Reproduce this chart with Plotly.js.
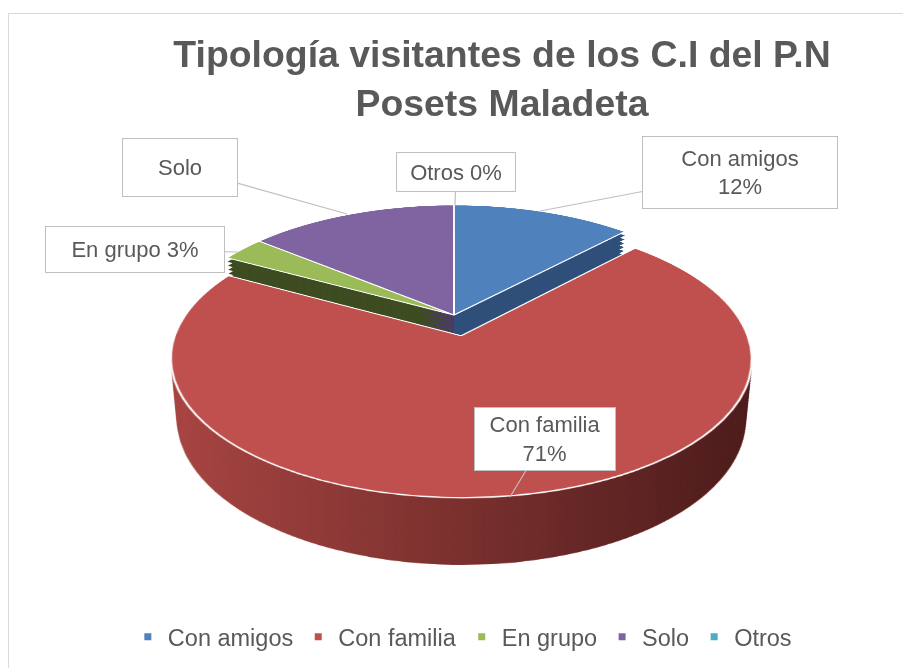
<!DOCTYPE html>
<html>
<head>
<meta charset="utf-8">
<script src="https://cdn.plot.ly/plotly-3.0.1.min.js"></script>
<style>
body { margin: 0; background: #fff; }
#wrap { position: relative; width: 903px; height: 668px; overflow: hidden; }
#frame { position: absolute; left: 8px; top: 13px; width: 1000px; height: 1000px; border: 1px solid #d9d9d9; }
.stack { position: absolute; left: 0; top: 0; width: 903px; height: 668px; }
#sideDark {
  -webkit-mask-image: linear-gradient(to right, rgba(0,0,0,0) 170px, #000 760px);
  mask-image: linear-gradient(to right, rgba(0,0,0,0) 170px, #000 760px);
}
.layer { position: absolute; left: 0; width: 903px; height: 720px; }
#chart { position: absolute; left: 0; top: 0; width: 903px; height: 668px; }
</style>
</head>
<body>
<div id="wrap">
  <div id="frame"></div>
  <div id="sideLight" class="stack"></div>
  <div id="sideDark" class="stack"></div>
  <div id="topFace" class="stack"></div>
  <div id="chart"></div>
</div>
<script>
// data
var categories = ["Con amigos", "Con familia", "En grupo", "Solo", "Otros"];
var percentValues = [12, 71, 3, 14, 0];
var labelStyle = ["br", "br", "inline", "name", "inline"];
var topColors = ["#4f81bd", "#c0504d", "#9bbb59", "#8064a2", "#4bacc6"];
var sideLightColors = ["#2f4f7a", "#a84542", "#3e4c21", "#4c3b66", "#2a7b8e"];
var sideDarkColors = ["#2f4f7a", "#4a1b1a", "#3e4c21", "#4c3b66", "#2a7b8e"];

var W = 903, H = 668;
var font = "Liberation Sans, Arial, sans-serif";

// 3d look: flat plotly pie tilted with css perspective, rim made of stacked copies
var r = 279, pullFam = 0.16, R = r * (1 + pullFam);
var LW = 903, LH = 720, ocx = 454, ocy = 360;   // pie centre inside a layer
var tipX = 454, tipY = 315;                      // where that centre lands on the page
var persp = 1520, tilt = 62.7, depth = 67, nSide = 14;

function pieLayer(parentId, colors, line, z) {
  var d = document.createElement("div");
  d.className = "layer";
  d.style.left = (tipX - ocx) + "px";
  d.style.top = (tipY - ocy) + "px";
  d.style.transformOrigin = ocx + "px " + ocy + "px";
  d.style.transform = "perspective(" + persp + "px) rotateX(" + tilt + "deg) translateZ(" + z + "px)";
  document.getElementById(parentId).appendChild(d);
  Plotly.newPlot(d, [{
    type: "pie",
    labels: categories,
    values: percentValues,
    sort: false,
    direction: "clockwise",
    rotation: 0,
    pull: [0, pullFam, 0, 0, 0],
    textinfo: "none",
    hoverinfo: "skip",
    showlegend: false,
    marker: {colors: colors, line: line},
    domain: {x: [(ocx - R) / LW, (ocx + R) / LW], y: [(LH - ocy - R) / LH, (LH - ocy + R) / LH]}
  }], {
    width: LW, height: LH,
    margin: {l: 0, r: 0, t: 0, b: 0},
    paper_bgcolor: "rgba(0,0,0,0)",
    showlegend: false
  }, {staticPlot: true});
}

for (var k = nSide; k >= 1; k--) {
  var z = -depth * k / nSide;
  pieLayer("sideLight", sideLightColors, {width: 0}, z);
  pieLayer("sideDark", sideDarkColors, {width: 0}, z);
}
pieLayer("topFace", topColors, {color: "#ffffff", width: 2}, 0);

// legend entries
var legendTraces = categories.map(function (name, i) {
  return {
    type: "scatter", mode: "markers", x: [null], y: [null], name: name,
    marker: {symbol: "square", size: 7, color: topColors[i]},
    hoverinfo: "skip"
  };
});

// callout boxes
var callouts = [
  {tip: [540, 211], box: [740, 173], w: 196, h: 73},
  {tip: [510, 497], box: [545, 439], w: 142, h: 64},
  {tip: [238, 252], box: [135, 250], w: 180, h: 47},
  {tip: [347, 214], box: [180, 167], w: 116, h: 59},
  {tip: [455, 205], box: [456, 172], w: 120, h: 40}
];

var annotations = categories.map(function (name, i) {
  var t = name;
  if (labelStyle[i] === "br") t = name + "<br>" + percentValues[i] + "%";
  if (labelStyle[i] === "inline") t = name + " " + percentValues[i] + "%";
  var co = callouts[i];
  return {
    text: t,
    xref: "paper", yref: "paper",
    x: co.tip[0] / W, y: 1 - co.tip[1] / H,
    ax: co.box[0] - co.tip[0], ay: co.box[1] - co.tip[1],
    showarrow: true, arrowhead: 0, arrowwidth: 1.2, arrowcolor: "#bfbfbf", standoff: 0,
    bgcolor: "#ffffff", bordercolor: "#bfbfbf", borderwidth: 1, borderpad: 0,
    width: co.w - 2, height: co.h - 2, align: "center", valign: "middle",
    font: {family: font, size: 22, color: "#595959"}
  };
});

Plotly.newPlot("chart", legendTraces, {
  width: W, height: H,
  margin: {l: 0, r: 0, t: 0, b: 0},
  paper_bgcolor: "rgba(0,0,0,0)",
  plot_bgcolor: "rgba(0,0,0,0)",
  xaxis: {visible: false},
  yaxis: {visible: false},
  title: {
    text: "Tipología visitantes de los C.I del P.N<br>Posets Maladeta",
    font: {family: font, size: 37.4, weight: "bold", color: "#595959"},
    x: 502 / W, xanchor: "center",
    y: 1 - 67 / H, yanchor: "top", yref: "container"
  },
  showlegend: true,
  legend: {
    orientation: "h", x: 0.512, xanchor: "center",
    y: 1 - 637 / H, yanchor: "middle",
    font: {family: font, size: 23.5, color: "#595959"},
    itemwidth: 30, bgcolor: "rgba(0,0,0,0)"
  },
  annotations: annotations
}, {staticPlot: true});
</script>
</body>
</html>
